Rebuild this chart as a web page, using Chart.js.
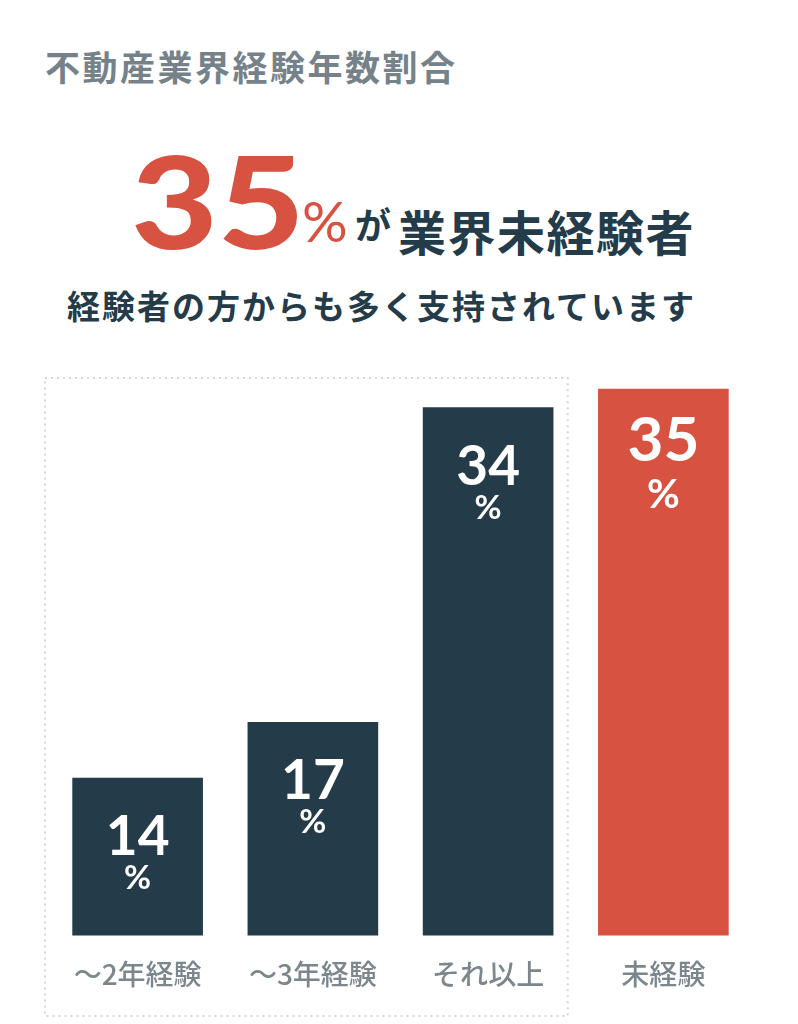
<!DOCTYPE html>
<html><head><meta charset="utf-8">
<script src="https://cdn.jsdelivr.net/npm/chart.js@4/dist/chart.umd.min.js"></script>
<style>
html,body{margin:0;padding:0;background:#fff;width:798px;height:1024px;overflow:hidden;position:relative}
.t{position:absolute;white-space:nowrap;line-height:1;margin:0}
#c{position:absolute;left:0;top:0}
</style></head>
<body>
<div class="t" style="left:45px;top:40px;font:700 35px 'Noto Sans CJK JP';letter-spacing:2.5px;color:#76828a">不動産業界経験年数割合</div>
<div class="t" style="left:131px;top:123px;font:900 128px 'Lato';color:#d75240;transform:scaleX(1.17);transform-origin:0 0">35</div>
<div class="t" style="left:302px;top:186px;font:400 57px 'Lato';color:#d75240">%</div>
<div class="t" style="left:355px;top:197px;font:700 36px 'Noto Sans CJK JP';color:#243b4a">が</div>
<div class="t" style="left:398px;top:195px;font:700 48px 'Noto Sans CJK JP';letter-spacing:1.5px;color:#243b4a">業界未経験者</div>
<div class="t" style="left:67px;top:281px;font:700 33px 'Noto Sans CJK JP';letter-spacing:2px;color:#243b4a">経験者の方からも多く支持されています</div>
<canvas id="c" width="798" height="1024"></canvas>
<script>
const categories = ['～2年経験', '～3年経験', 'それ以上', '未経験'];
const values = [14, 17, 34, 35];
const barColors = ['#243b4a', '#243b4a', '#243b4a', '#d75240'];
const yMin = 5.5;
const yMax = 35.6;

const boxPlugin = {
  id: 'box',
  beforeDatasetsDraw(chart) {
    const {ctx, chartArea, scales} = chart;
    const x = scales.x;
    const left = chartArea.left - 5;
    const right = (x.getPixelForValue(2) + x.getPixelForValue(3)) / 2 - 8;
    const top = chartArea.top;
    const bottom = 1016;
    ctx.save();
    ctx.strokeStyle = '#d3d7da';
    ctx.lineWidth = 2;
    ctx.setLineDash([2, 4]);
    ctx.strokeRect(left, top, right - left, bottom - top);
    ctx.restore();
  }
};

const labelPlugin = {
  id: 'barLabels',
  afterDatasetsDraw(chart) {
    const {ctx} = chart;
    const meta = chart.getDatasetMeta(0);
    ctx.save();
    ctx.fillStyle = '#ffffff';
    ctx.textAlign = 'center';
    ctx.textBaseline = 'alphabetic';
    meta.data.forEach((bar, i) => {
      const big = i === 3;
      ctx.font = (big ? '700 62px' : '700 55px') + " Lato";
      ctx.fillText(String(values[i]), bar.x, bar.y + (big ? 72 : 77));
      ctx.font = (big ? '700 40px' : '700 33px') + " Lato";
      ctx.fillText('%', bar.x, bar.y + (big ? 119 : 111));
    });
    ctx.restore();
  }
};

new Chart(document.getElementById('c'), {
  type: 'bar',
  data: {
    labels: categories,
    datasets: [{
      data: values,
      backgroundColor: barColors,
      borderWidth: 0,
      barThickness: 130
    }]
  },
  options: {
    responsive: false,
    animation: false,
    layout: {padding: {left: 50, right: 47, top: 378, bottom: 11}},
    plugins: {legend: {display: false}, tooltip: {enabled: false}},
    scales: {
      x: {
        grid: {display: false, drawTicks: false},
        border: {display: false},
        ticks: {
          color: '#7b878d',
          padding: 22,
          font: {family: "'Noto Sans CJK JP'", size: 28, weight: '500'}
        }
      },
      y: {display: false, min: yMin, max: yMax}
    }
  },
  plugins: [boxPlugin, labelPlugin]
});
</script>
</body></html>
